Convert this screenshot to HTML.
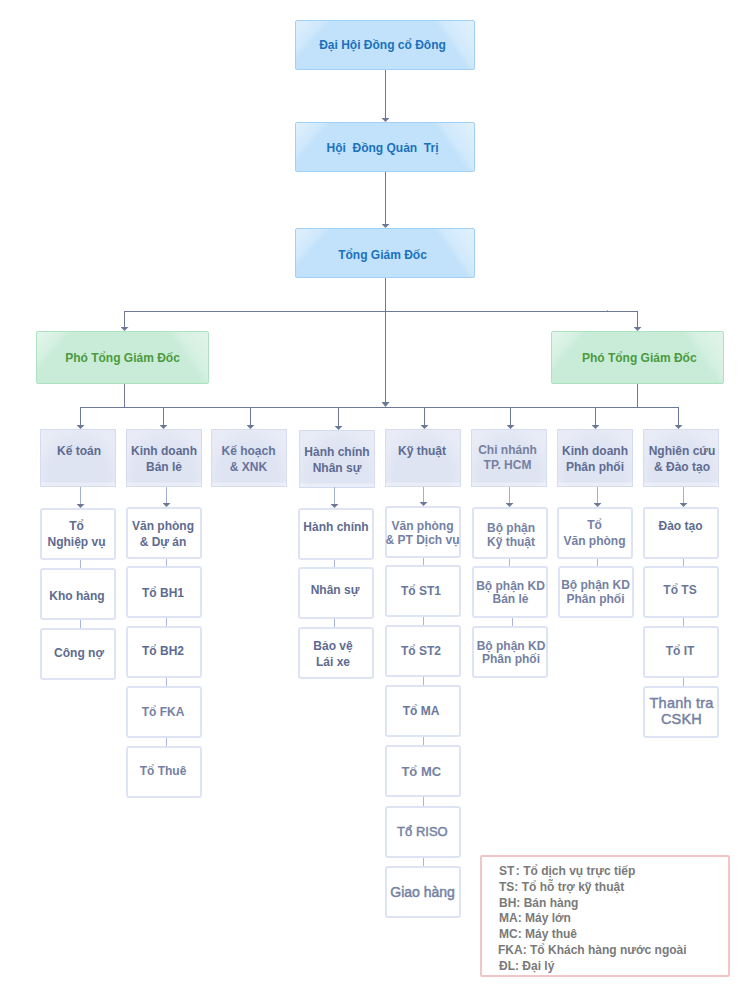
<!DOCTYPE html>
<html><head><meta charset="utf-8">
<style>
html,body{margin:0;padding:0;background:#fff;width:749px;height:1000px;overflow:hidden;position:relative}
body{font-family:"Liberation Sans",sans-serif;font-size:12px;font-weight:bold}
.b{position:absolute;box-sizing:border-box;display:flex;align-items:center;justify-content:center;text-align:center;line-height:16px;white-space:nowrap}
.b span{display:block}
.blue{border:1px solid #a2d1f8;border-radius:2px;color:#1a71be;
 background:
  linear-gradient(131deg, rgba(255,255,255,.5) 0px, rgba(255,255,255,.22) 20px, rgba(255,255,255,0) 26px),
  linear-gradient(235deg, rgba(255,255,255,.5) 0px, rgba(255,255,255,.25) 26px, rgba(255,255,255,0) 33px),
  #c2e2fb;}
.green{border:1px solid #ace1c1;border-radius:2px;color:#4b9a3d;
 background:
  linear-gradient(131deg, rgba(255,255,255,.5) 0px, rgba(255,255,255,.22) 20px, rgba(255,255,255,0) 26px),
  linear-gradient(235deg, rgba(255,255,255,.45) 0px, rgba(255,255,255,.22) 26px, rgba(255,255,255,0) 33px),
  #c9ecd8;}
.dept{border:1px solid #d5dcef;color:#5e6b90;align-items:flex-start;padding-top:12px;
 background:
  linear-gradient(to top, rgba(255,255,255,.35) 0px, rgba(255,255,255,.35) 3px, rgba(255,255,255,0) 4px),
  radial-gradient(ellipse 60% 95% at 50% 85%, #dfe4f3 0%, #dfe4f3 65%, #e9ecf6 100%);}
.sub{border:2px solid #dfe4f4;border-radius:3px;color:#5e6b90;background:#fff}
.ln{position:absolute;background:#6b7898}
.ln2{position:absolute;background:#a3afd2}
.lt{position:absolute;background:#aab5d9}
.ar{position:absolute;width:8px;height:5px;background:#6b7898;clip-path:polygon(0 0,100% 0,50% 100%)}
.legend{position:absolute;left:480px;top:855px;width:250px;height:122px;box-sizing:border-box;border:2px solid #f3c6c6;border-radius:2px;color:#7a7a7a;font-size:12px;line-height:15.8px;padding:7px 0 0 17px}
</style></head><body>
<div class="b blue" style="left:295px;top:20px;width:180px;height:50px;"><span style="transform:translate(-2.5px,0px);">Đại Hội Đồng cổ Đông</span></div>
<div class="b blue" style="left:295px;top:122px;width:180px;height:50px;"><span style="transform:translate(-2.5px,1px);">Hội&nbsp; Đồng Quản&nbsp; Trị</span></div>
<div class="b blue" style="left:295px;top:228px;width:180px;height:50px;"><span style="transform:translate(-2.5px,1.5px);">Tổng Giám Đốc</span></div>
<div class="ln" style="left:385px;top:70px;width:1px;height:48px"></div>
<div class="ar" style="left:381.5px;top:118px;height:4px"></div>
<div class="ln" style="left:385px;top:172px;width:1px;height:52px"></div>
<div class="ar" style="left:381.5px;top:224px;height:4px"></div>
<div class="ln" style="left:385px;top:278px;width:1px;height:125px"></div>
<div class="ar" style="left:381.5px;top:402px;height:5px"></div>
<div class="ln" style="left:124px;top:311px;width:514px;height:1px"></div>
<div class="ln" style="left:124px;top:311px;width:1px;height:16px"></div>
<div class="ar" style="left:120.5px;top:327px;height:4px"></div>
<div class="ln" style="left:637px;top:311px;width:1px;height:16px"></div>
<div class="ar" style="left:633.5px;top:327px;height:4px"></div>
<div class="b green" style="left:36px;top:331px;width:173px;height:53px;"><span style="">Phó Tổng Giám Đốc</span></div>
<div class="b green" style="left:551px;top:331px;width:173px;height:53px;"><span style="transform:translate(1.8px,0px);">Phó Tổng Giám Đốc</span></div>
<div class="ln" style="left:124px;top:384px;width:1px;height:24px"></div>
<div class="ln" style="left:637px;top:384px;width:1px;height:24px"></div>
<div class="ln" style="left:80px;top:407px;width:599px;height:1px"></div>
<div class="ln" style="left:607px;top:310px;width:1px;height:1px;opacity:.6"></div>
<div class="ln" style="left:80px;top:407px;width:1px;height:18px"></div>
<div class="ar" style="left:76.5px;top:425px;height:4px"></div>
<div class="b dept" style="left:40px;top:429px;width:76px;height:58px;"><span style="transform:translate(1px,0.5px);">Kế toán</span></div>
<div class="ln" style="left:163px;top:407px;width:1px;height:18px"></div>
<div class="ar" style="left:159.5px;top:425px;height:4px"></div>
<div class="b dept" style="left:126px;top:429px;width:76px;height:58px;"><span style="transform:translate(0px,0.5px);">Kinh doanh<br>Bán lẻ</span></div>
<div class="ln" style="left:250px;top:407px;width:1px;height:18px"></div>
<div class="ar" style="left:246.5px;top:425px;height:4px"></div>
<div class="b dept" style="left:211px;top:429px;width:76px;height:58px;"><span style="transform:translate(-0.5px,0.5px);color:#66739a;">Kế hoạch<br>&amp; XNK</span></div>
<div class="ln" style="left:338px;top:407px;width:1px;height:19px"></div>
<div class="ar" style="left:334.5px;top:426px;height:4px"></div>
<div class="b dept" style="left:299px;top:430px;width:76px;height:58px;"><span style="transform:translate(0px,1px);">Hành chính<br>Nhân sự</span></div>
<div class="ln" style="left:424px;top:407px;width:1px;height:18px"></div>
<div class="ar" style="left:420.5px;top:425px;height:4px"></div>
<div class="b dept" style="left:385px;top:429px;width:76px;height:58px;"><span style="transform:translate(-1px,0.5px);">Kỹ thuật</span></div>
<div class="ln" style="left:510px;top:407px;width:1px;height:18px"></div>
<div class="ar" style="left:506.5px;top:425px;height:4px"></div>
<div class="b dept" style="left:471px;top:429px;width:76px;height:58px;"><span style="transform:translate(-1.5px,1px);line-height:15px;color:#76819f;">Chi nhánh<br>TP. HCM</span></div>
<div class="ln" style="left:595px;top:407px;width:1px;height:18px"></div>
<div class="ar" style="left:591.5px;top:425px;height:4px"></div>
<div class="b dept" style="left:557px;top:429px;width:76px;height:58px;"><span style="transform:translate(0px,0.5px);">Kinh doanh<br>Phân phối</span></div>
<div class="ln" style="left:678px;top:407px;width:1px;height:18px"></div>
<div class="ar" style="left:674.5px;top:425px;height:4px"></div>
<div class="b dept" style="left:643px;top:429px;width:76px;height:58px;"><span style="transform:translate(1px,0.75px);">Nghiên cứu<br>&amp; Đào tạo</span></div>
<div class="ln2" style="left:80px;top:487px;width:1px;height:17px"></div>
<div class="ar" style="left:76.5px;top:504px;height:4px"></div>
<div class="b sub" style="left:40px;top:508px;width:76px;height:52px;"><span style="transform:translate(-1.5px,-0.5px);">Tổ<br>Nghiệp vụ</span></div>
<div class="lt" style="left:80px;top:560px;width:1px;height:8px"></div>
<div class="b sub" style="left:40px;top:568px;width:76px;height:52px;"><span style="transform:translate(-1px,1.5px);">Kho hàng</span></div>
<div class="lt" style="left:80px;top:620px;width:1px;height:8px"></div>
<div class="b sub" style="left:40px;top:628px;width:76px;height:52px;"><span style="transform:translate(1px,-1.2px);">Công nợ</span></div>
<div class="ln2" style="left:166px;top:487px;width:1px;height:16px"></div>
<div class="ar" style="left:162.5px;top:503px;height:4px"></div>
<div class="b sub" style="left:126px;top:507px;width:76px;height:52px;"><span style="transform:translate(-1px,0.5px);">Văn phòng<br>&amp; Dự án</span></div>
<div class="lt" style="left:166px;top:559px;width:1px;height:7px"></div>
<div class="b sub" style="left:126px;top:566px;width:76px;height:52px;"><span style="transform:translate(-1px,0.5px);">Tổ BH1</span></div>
<div class="lt" style="left:166px;top:618px;width:1px;height:8px"></div>
<div class="b sub" style="left:126px;top:626px;width:76px;height:52px;"><span style="transform:translate(-1px,-1.5px);">Tổ BH2</span></div>
<div class="lt" style="left:166px;top:678px;width:1px;height:8px"></div>
<div class="b sub" style="left:126px;top:686px;width:76px;height:52px;"><span style="transform:translate(-1px,-0.5px);color:#7581a3">Tổ FKA</span></div>
<div class="lt" style="left:166px;top:738px;width:1px;height:8px"></div>
<div class="b sub" style="left:126px;top:746px;width:76px;height:52px;"><span style="transform:translate(-1px,-1px);color:#7581a3">Tổ Thuê</span></div>
<div class="ln2" style="left:334px;top:487px;width:1px;height:17px"></div>
<div class="ar" style="left:330.5px;top:504px;height:4px"></div>
<div class="b sub" style="left:298px;top:508px;width:76px;height:52px;"><span style="transform:translate(0px,-7.5px);">Hành chính</span></div>
<div class="lt" style="left:334px;top:560px;width:1px;height:7px"></div>
<div class="b sub" style="left:298px;top:567px;width:76px;height:52px;"><span style="transform:translate(-1px,-3.5px);">Nhân sự</span></div>
<div class="lt" style="left:334px;top:619px;width:1px;height:8px"></div>
<div class="b sub" style="left:298px;top:627px;width:76px;height:52px;"><span style="transform:translate(-3px,0.5px);">Bảo vệ<br>Lái xe</span></div>
<div class="ln2" style="left:423px;top:487px;width:1px;height:15px"></div>
<div class="ar" style="left:419.5px;top:502px;height:4px"></div>
<div class="b sub" style="left:385px;top:506px;width:76px;height:52px;"><span style="transform:translate(-0.5px,0.5px);line-height:14px;color:#7581a3">Văn phòng<br>&amp; PT Dịch vụ</span></div>
<div class="lt" style="left:423px;top:558px;width:1px;height:7px"></div>
<div class="b sub" style="left:385px;top:565px;width:76px;height:52px;"><span style="transform:translate(-2px,-0.5px);color:#6a779b">Tổ ST1</span></div>
<div class="lt" style="left:423px;top:617px;width:1px;height:8px"></div>
<div class="b sub" style="left:385px;top:625px;width:76px;height:52px;"><span style="transform:translate(-2px,-0.5px);color:#6a779b">Tổ ST2</span></div>
<div class="lt" style="left:423px;top:677px;width:1px;height:8px"></div>
<div class="b sub" style="left:385px;top:685px;width:76px;height:52px;"><span style="transform:translate(-2px,-0.5px);color:#6a779b">Tổ MA</span></div>
<div class="lt" style="left:423px;top:737px;width:1px;height:8px"></div>
<div class="b sub" style="left:385px;top:745px;width:76px;height:52px;"><span style="transform:translate(-1.75px,0.5px);color:#7581a3;font-size:13px">Tổ MC</span></div>
<div class="lt" style="left:423px;top:797px;width:1px;height:9px"></div>
<div class="b sub" style="left:385px;top:806px;width:76px;height:52px;"><span style="transform:translate(-0.6px,0px);color:#7581a3;font-size:13px;font-weight:normal;-webkit-text-stroke:0.45px #7581a3">Tổ RISO</span></div>
<div class="lt" style="left:423px;top:858px;width:1px;height:8px"></div>
<div class="b sub" style="left:385px;top:866px;width:76px;height:52px;"><span style="transform:translate(-0.4px,0px);color:#7581a3;font-size:14px;font-weight:normal;-webkit-text-stroke:0.45px #7581a3">Giao hàng</span></div>
<div class="ln2" style="left:509px;top:487px;width:1px;height:16px"></div>
<div class="ar" style="left:505.5px;top:503px;height:4px"></div>
<div class="b sub" style="left:472px;top:507px;width:76px;height:52px;"><span style="transform:translate(1px,1.8px);line-height:14px;color:#7581a3">Bộ phận<br>Kỹ thuật</span></div>
<div class="lt" style="left:509px;top:559px;width:1px;height:7px"></div>
<div class="b sub" style="left:472px;top:566px;width:76px;height:52px;"><span style="transform:translate(0.5px,0.7px);line-height:13px;color:#7581a3">Bộ phận KD<br>Bán lẻ</span></div>
<div class="lt" style="left:512px;top:618px;width:1px;height:8px"></div>
<div class="b sub" style="left:472px;top:626px;width:76px;height:52px;"><span style="transform:translate(1px,0.7px);line-height:13px;color:#7581a3">Bộ phận KD<br>Phân phối</span></div>
<div class="ln2" style="left:597px;top:487px;width:1px;height:16px"></div>
<div class="ar" style="left:593.5px;top:503px;height:4px"></div>
<div class="b sub" style="left:557px;top:507px;width:76px;height:52px;"><span style="transform:translate(-0.5px,-0.5px);color:#7581a3">Tổ<br>Văn phòng</span></div>
<div class="lt" style="left:597px;top:559px;width:1px;height:7px"></div>
<div class="b sub" style="left:558px;top:566px;width:76px;height:52px;"><span style="transform:translate(-0.5px,-0.2px);line-height:14px;color:#7581a3">Bộ phận KD<br>Phân phối</span></div>
<div class="ln2" style="left:683px;top:487px;width:1px;height:16px"></div>
<div class="ar" style="left:679.5px;top:503px;height:4px"></div>
<div class="b sub" style="left:643px;top:507px;width:76px;height:52px;"><span style="transform:translate(-0.5px,-7.5px);">Đào tạo</span></div>
<div class="lt" style="left:683px;top:559px;width:1px;height:7px"></div>
<div class="b sub" style="left:643px;top:566px;width:76px;height:52px;"><span style="transform:translate(-1px,-2.5px);color:#6a779b">Tổ TS</span></div>
<div class="lt" style="left:683px;top:618px;width:1px;height:8px"></div>
<div class="b sub" style="left:643px;top:626px;width:76px;height:52px;"><span style="transform:translate(-1px,-1px);color:#6a779b">Tổ IT</span></div>
<div class="lt" style="left:683px;top:678px;width:1px;height:8px"></div>
<div class="b sub" style="left:643px;top:686px;width:76px;height:52px;"><span style="transform:translate(0.5px,-1px);line-height:16.5px;color:#7581a3;font-size:14.5px;font-weight:normal;letter-spacing:0.2px;-webkit-text-stroke:0.45px #7581a3">Thanh tra<br>CSKH</span></div>
<div class="legend">S<span style="letter-spacing:1.5px">T</span>: Tổ dịch vụ trực tiếp<br>TS: Tổ hỗ trợ kỹ thuật<br>BH: Bán hàng<br>MA: Máy lớn<br>MC: Máy thuê<br><span style="margin-left:-1px">FKA: </span>Tổ Khách hàng nước ngoài<br>ĐL: Đại lý</div>
</body></html>
